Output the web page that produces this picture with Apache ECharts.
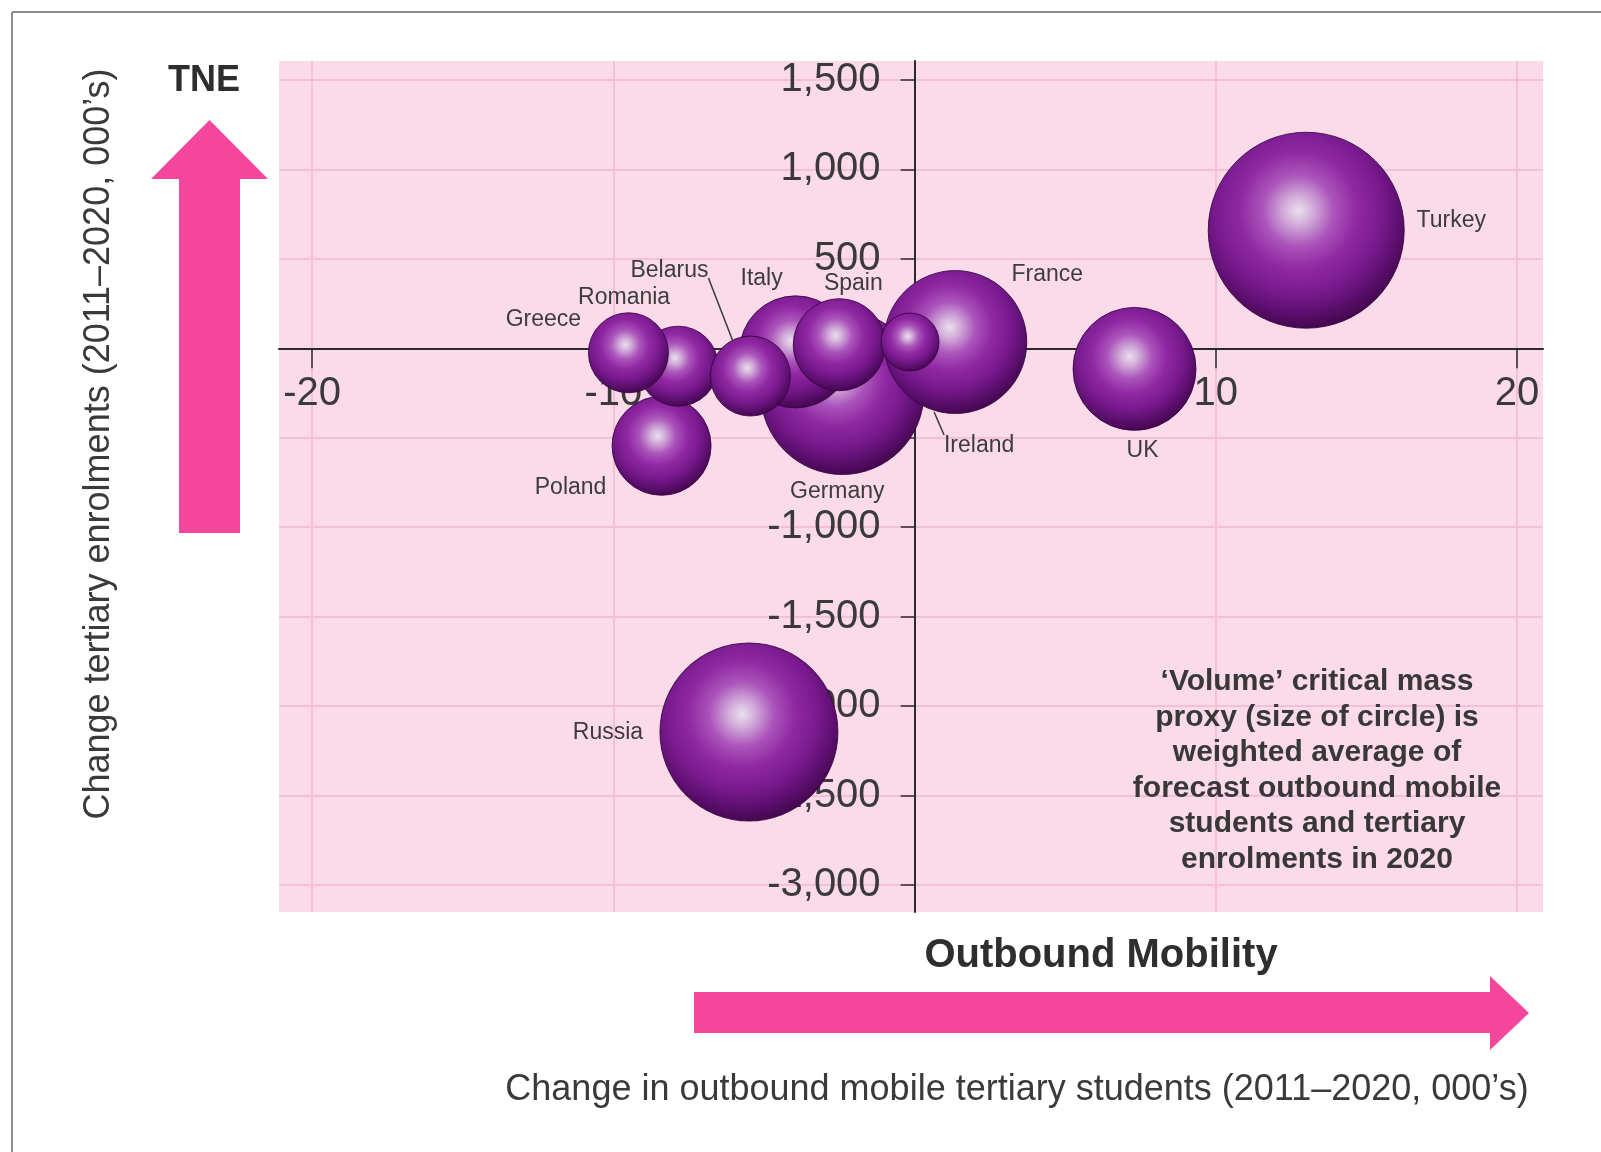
<!DOCTYPE html>
<html>
<head>
<meta charset="utf-8">
<script src="https://cdn.jsdelivr.net/npm/echarts@6/dist/echarts.min.js"></script>
<style>
html,body{margin:0;padding:0;background:#ffffff;}
#chart{width:1601px;height:1152px;}
</style>
</head>
<body>
<div id="chart"></div>
<script>
// ---- data ----
// drawing order: first item is drawn at the back
const countries = ['Germany','Italy','Poland','Romania','Greece','Belarus','Spain','France','Ireland','UK','Turkey','Russia'];
const outboundChange = [-2.4, -3.95, -8.4, -7.85, -9.5, -5.45, -2.5, 1.35, -0.15, 7.3, 13.0, -5.5];   // 000's
const enrolmentChange = [-250, -20, -545, -100, -25, -155, 20, 35, 35, -115, 660, -2145];          // 000's
const volumeProxy = [66.4, 31.4, 24.5, 16, 16, 16, 21.2, 51.1, 8.4, 37.8, 96, 79.2];               // relative critical mass
const xTickValues = [-20, -10, 0, 10, 20];
const xLabelValues = [-20, -10, 10, 20];
const yTickValues = [-3000, -2500, -2000, -1500, -1000, -500, 0, 500, 1000, 1500];
const yLabelValues = [-3000, -2500, -2000, -1500, -1000, -500, 500, 1000, 1500];

// ---- layout / style (not data) ----
const GRID = { left: 279, right: 58, top: 61, bottom: 240 };
const W = 1601, H = 1152;
const labelOffset = {
  Turkey: [145, -10], UK: [8, 82], France: [92, -67], Ireland: [69, 104],
  Germany: [-5, 99], Spain: [14, -61], Italy: [-34, -73], Belarus: [-81, -105],
  Romania: [-54, -69], Greece: [-85, -33], Poland: [-91, 42], Russia: [-141, 1]
};
const leaderLines = {
  Belarus: [[-42, -98], [-18, -36]],
  Ireland: [[24, 70], [34, 93]]
};
const FONT = 'Liberation Sans, Arial, sans-serif';
const PINK = '#f4479c';

function bubbleColor() {
  return new echarts.graphic.RadialGradient(0.46, 0.4, 0.6, [
    { offset: 0, color: '#ebdfee' },
    { offset: 0.12, color: '#d3aeda' },
    { offset: 0.3, color: '#ab55bb' },
    { offset: 0.5, color: '#9028a3' },
    { offset: 0.7, color: '#7a1a8f' },
    { offset: 0.85, color: '#5f1072' },
    { offset: 1, color: '#44074f' }
  ]);
}

const seriesData = countries.map((c, i) => ({
  name: c,
  value: [outboundChange[i], enrolmentChange[i], volumeProxy[i]],
  itemStyle: { color: bubbleColor() }
}));

const chart = echarts.init(document.getElementById('chart'), null, { renderer: 'canvas' });

const staticGraphics = [
  { id: 'frameTop', type: 'line', z: 100, shape: { x1: 12, y1: 12, x2: 1601, y2: 12 }, style: { stroke: '#8c8c8c', lineWidth: 2 } },
  { id: 'frameLeft', type: 'line', z: 100, shape: { x1: 12, y1: 12, x2: 12, y2: 1152 }, style: { stroke: '#8c8c8c', lineWidth: 2 } },
  { id: 'arrowUp', type: 'polygon', z: 100,
    shape: { points: [[179, 533], [179, 179], [151, 179], [209.5, 120], [268, 179], [240, 179], [240, 533]] },
    style: { fill: PINK } },
  { id: 'arrowRight', type: 'polygon', z: 100,
    shape: { points: [[694, 992], [1490, 992], [1490, 976], [1529, 1013], [1490, 1050], [1490, 1033], [694, 1033]] },
    style: { fill: PINK } },
  { id: 'tne', type: 'text', z: 100, x: 204, y: 81,
    style: { text: 'TNE', fill: '#2e2e2e', fontSize: 36, fontWeight: 'bold', fontFamily: FONT, align: 'center', verticalAlign: 'middle' } },
  { id: 'ytitle', type: 'text', z: 100, x: 99, y: 444, rotation: Math.PI / 2,
    style: { text: 'Change tertiary enrolments (2011\u20132020, 000\u2019s)', fill: '#3a3a3a', fontSize: 36, fontFamily: FONT, align: 'center', verticalAlign: 'middle' } },
  { id: 'xbold', type: 'text', z: 100, x: 1101, y: 956,
    style: { text: 'Outbound Mobility', fill: '#2e2e2e', fontSize: 40, fontWeight: 'bold', fontFamily: FONT, align: 'center', verticalAlign: 'middle' } },
  { id: 'xtitle', type: 'text', z: 100, x: 1017, y: 1090,
    style: { text: 'Change in outbound mobile tertiary students (2011\u20132020, 000\u2019s)', fill: '#3a3a3a', fontSize: 36, fontFamily: FONT, align: 'center', verticalAlign: 'middle' } },
  { id: 'note', type: 'text', z: 100, x: 1317, y: 664,
    style: {
      text: '\u2018Volume\u2019 critical mass\nproxy (size of circle) is\nweighted average of\nforecast outbound mobile\nstudents and tertiary\nenrolments in 2020',
      fill: '#383838', fontSize: 30, fontWeight: 'bold', fontFamily: FONT, lineHeight: 35.6, align: 'center', verticalAlign: 'top'
    } }
];

const option = {
  animation: false,
  backgroundColor: '#ffffff',
  grid: {
    left: GRID.left, right: GRID.right, top: GRID.top, bottom: GRID.bottom,
    show: true, backgroundColor: '#fbdae9', borderWidth: 0, z: 0,
    containLabel: false, outerBoundsMode: 'none'
  },
  xAxis: {
    type: 'value', min: -21.1, max: 20.86, position: 'bottom', offset: 0, z: 1,
    axisLine: { onZero: false, lineStyle: { color: '#2b2b2b', width: 2 } },
    axisTick: { show: true, length: 20, customValues: xTickValues, lineStyle: { color: '#2b2b2b', width: 1.5 } },
    axisLabel: { customValues: xLabelValues, fontSize: 40, fontFamily: FONT, color: '#3a3a3a', margin: 26 },
    splitLine: { show: true, lineStyle: { color: '#f3c0d7', width: 2 } }
  },
  yAxis: {
    type: 'value', min: -3151, max: 1606, position: 'left', offset: 0, z: 1,
    axisLine: { onZero: false, lineStyle: { color: '#2b2b2b', width: 2 } },
    axisTick: { show: true, length: 14, customValues: yTickValues, lineStyle: { color: '#2b2b2b', width: 1.5 } },
    axisLabel: {
      customValues: yLabelValues, fontSize: 40, fontFamily: FONT, color: '#3a3a3a', margin: 34,
      formatter: v => Number(v).toLocaleString('en-US')
    },
    splitLine: { show: true, lineStyle: { color: '#f3c0d7', width: 2 } }
  },
  graphic: { elements: staticGraphics },
  series: [{
    type: 'scatter',
    z: 10,
    data: seriesData,
    symbol: 'circle',
    symbolSize: v => 20 * Math.sqrt(v[2]),
    itemStyle: { opacity: 1, borderColor: 'rgba(56,4,66,0.85)', borderWidth: 1 },
    emphasis: { disabled: true },
    label: {
      show: true, formatter: '{b}', position: 'inside',
      fontSize: 23, fontFamily: FONT, color: '#3c3c3c'
    },
    labelLayout: function (p) {
      const o = labelOffset[countries[p.dataIndex]];
      return {
        x: p.rect.x + p.rect.width / 2 + o[0],
        y: p.rect.y + p.rect.height / 2 + o[1],
        align: 'center', verticalAlign: 'middle'
      };
    }
  }]
};

chart.setOption(option);

// move both axes (line, ticks and labels) onto the zero crossing, found through the chart's own scales
const zero = chart.convertToPixel({ gridIndex: 0 }, [0, 0]);
const xOffset = -((H - GRID.bottom) - zero[1]);
const yOffset = -(zero[0] - GRID.left);

const extra = [];
Object.keys(leaderLines).forEach(name => {
  const i = countries.indexOf(name);
  const p = chart.convertToPixel({ gridIndex: 0 }, [outboundChange[i], enrolmentChange[i]]);
  const seg = leaderLines[name];
  extra.push({
    id: 'leader' + name, type: 'line', z: 100,
    shape: { x1: p[0] + seg[0][0], y1: p[1] + seg[0][1], x2: p[0] + seg[1][0], y2: p[1] + seg[1][1] },
    style: { stroke: '#3a3a3a', lineWidth: 1.5 }
  });
});
chart.setOption({
  xAxis: { offset: xOffset },
  yAxis: { offset: yOffset },
  graphic: { elements: extra }
});
</script>
</body>
</html>
